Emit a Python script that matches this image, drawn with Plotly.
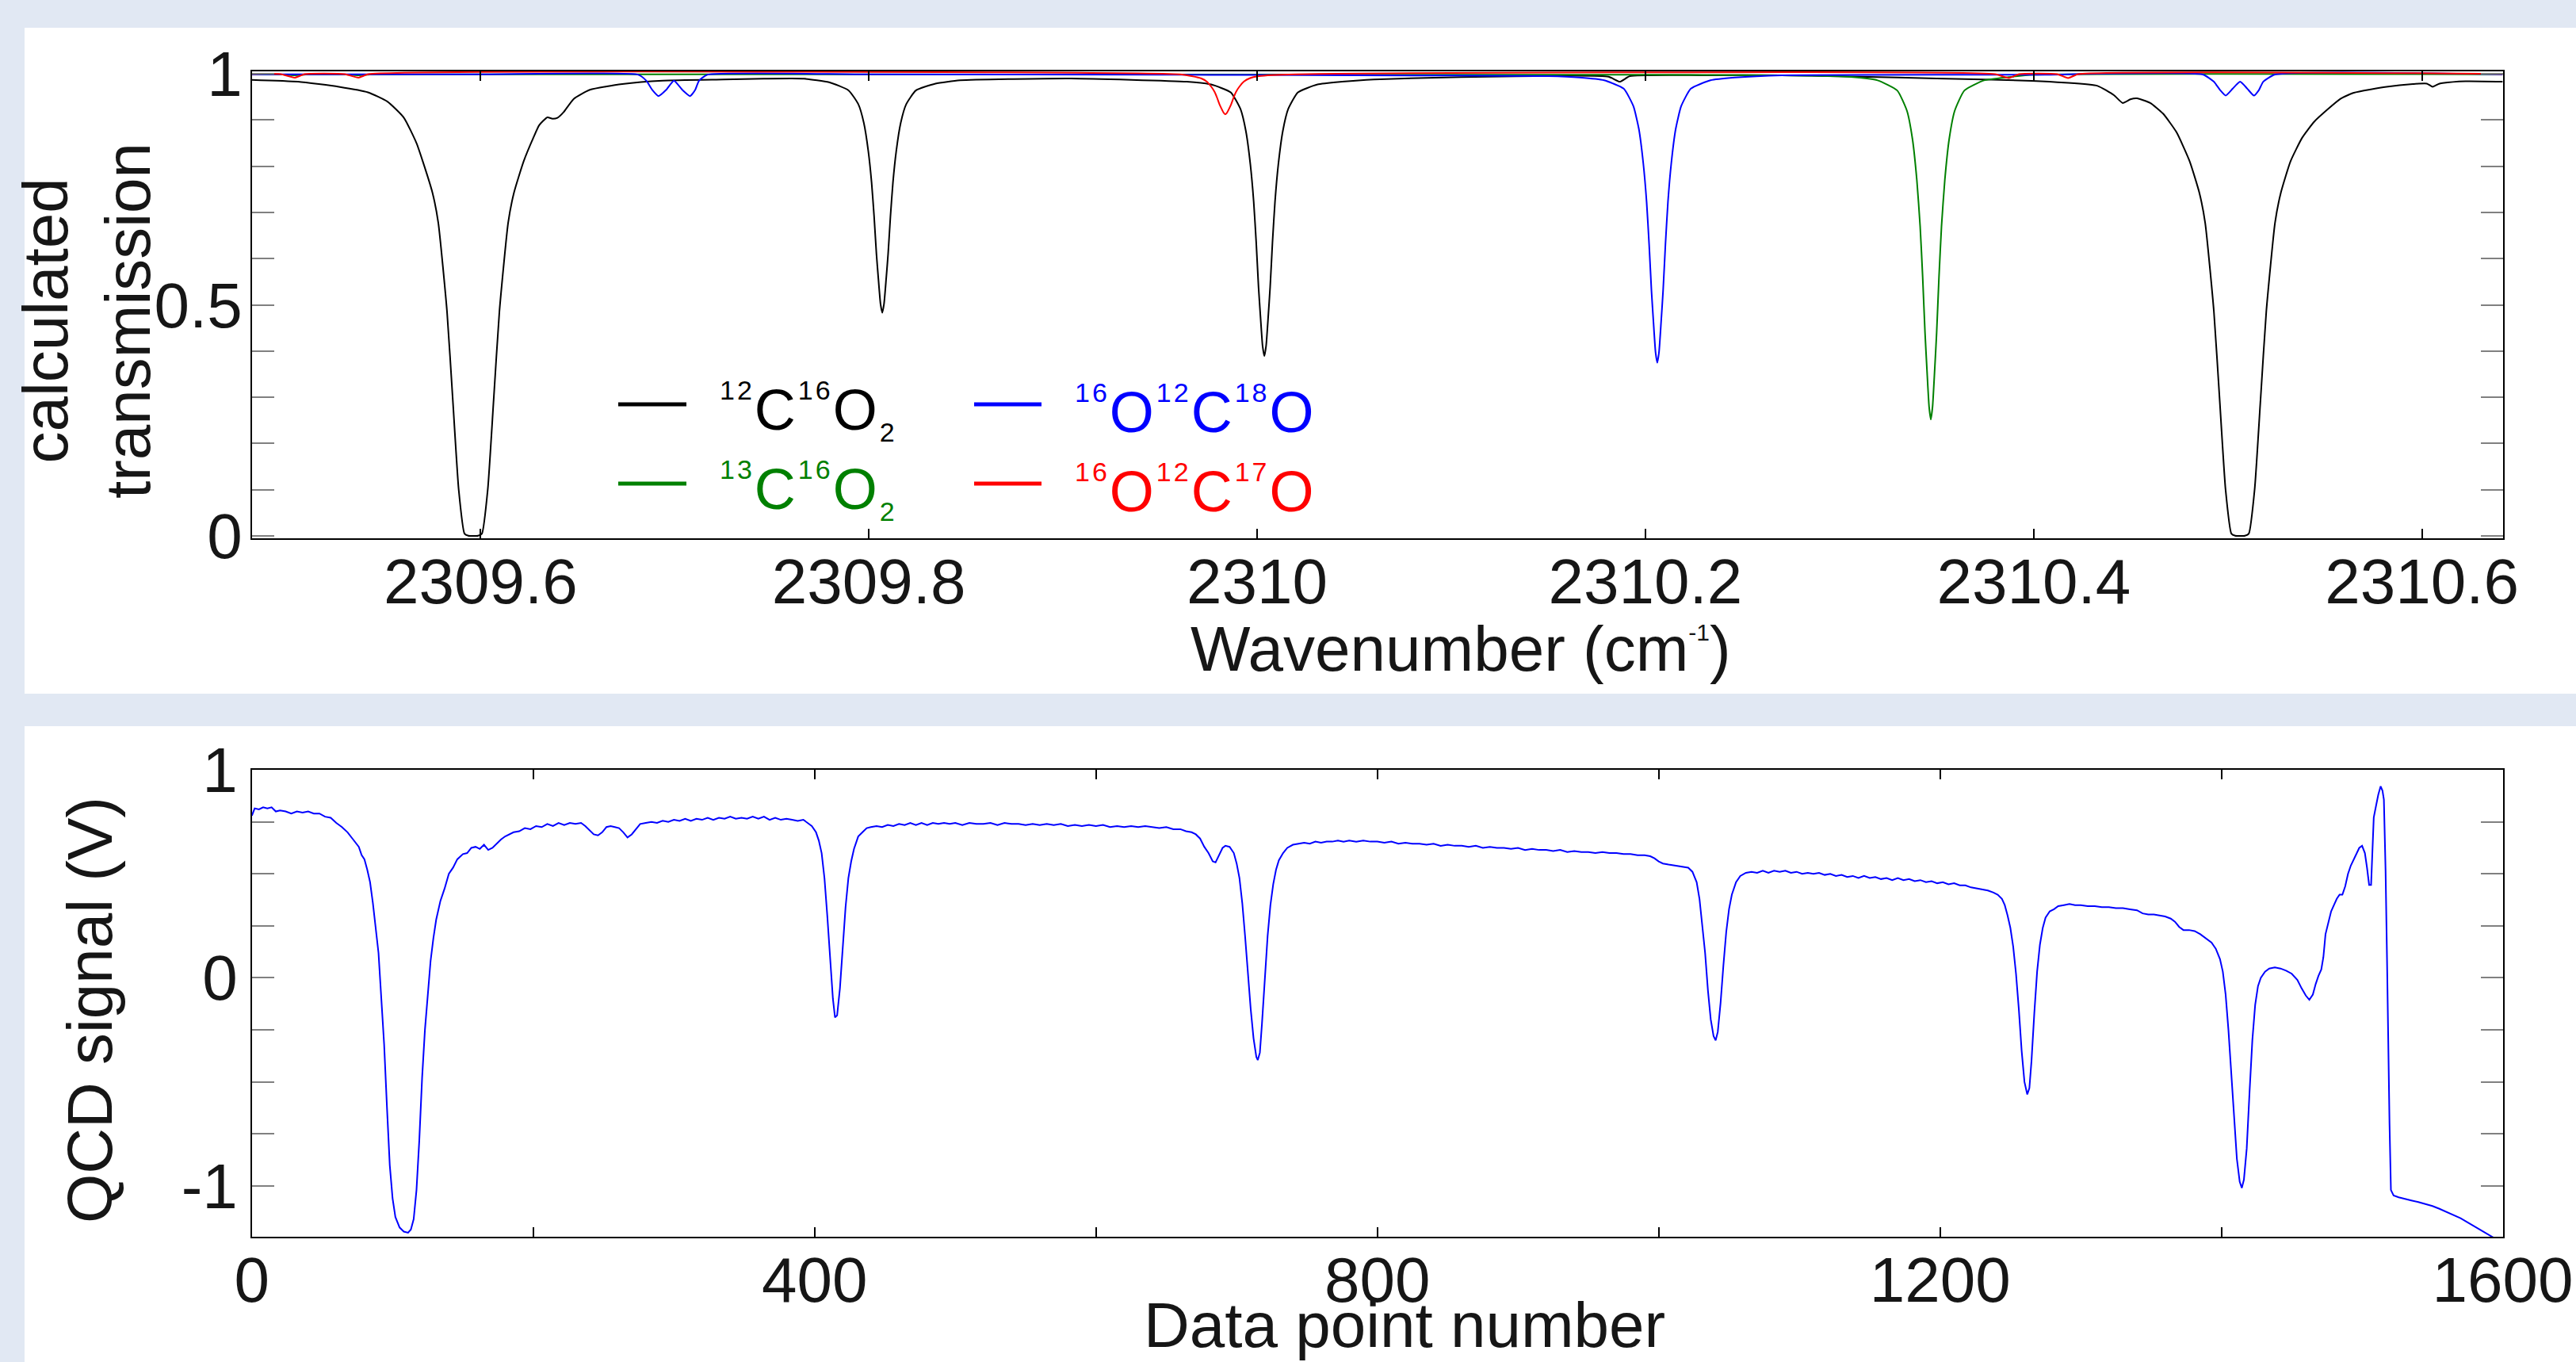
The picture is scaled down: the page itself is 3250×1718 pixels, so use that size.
import plotly.graph_objects as go

# ---------------- data: calculated transmission (top panel) ----------------
wn_12C16O2 = [2309.482, 2309.506, 2309.527, 2309.542, 2309.552, 2309.5605, 2309.567, 2309.5702,
              2309.5752, 2309.5782, 2309.5827, 2309.5857, 2309.5887, 2309.5917, 2309.5937, 2309.5962,
              2309.5987, 2309.6007, 2309.6037, 2309.6067, 2309.6097, 2309.6142, 2309.6172, 2309.6222,
              2309.6272, 2309.6302, 2309.6344, 2309.637, 2309.6396, 2309.6427, 2309.648, 2309.6563,
              2309.673, 2309.6938, 2309.725, 2309.7459, 2309.7667, 2309.7795, 2309.7896, 2309.7946,
              2309.7974, 2309.7997, 2309.8014, 2309.8027, 2309.8039, 2309.8049, 2309.806, 2309.8069,
              2309.8078, 2309.8089, 2309.8099, 2309.8111, 2309.8124, 2309.8141, 2309.8164, 2309.8192,
              2309.8242, 2309.8343, 2309.847, 2309.904, 2309.9637, 2309.9763, 2309.9864, 2309.9914,
              2309.9942, 2309.9965, 2309.9982, 2309.9995, 2310.0007, 2310.0017, 2310.0028, 2310.0037,
              2310.0046, 2310.0057, 2310.0067, 2310.0079, 2310.0092, 2310.0109, 2310.0132, 2310.016,
              2310.021, 2310.0311, 2310.0437, 2310.06, 2310.105, 2310.162, 2310.181, 2310.1868,
              2310.192, 2310.23, 2310.27, 2310.31, 2310.35, 2310.399, 2310.416, 2310.4329,
              2310.4413, 2310.4458, 2310.4498, 2310.4532, 2310.46, 2310.4666, 2310.4735, 2310.4803,
              2310.4853, 2310.4883, 2310.4928, 2310.4958, 2310.4988, 2310.5018, 2310.5038, 2310.5063,
              2310.5088, 2310.5108, 2310.5138, 2310.5168, 2310.5198, 2310.5243, 2310.5273, 2310.5323,
              2310.5383, 2310.5446, 2310.558, 2310.5649, 2310.5817, 2310.5953, 2310.6025, 2310.6055,
              2310.6085, 2310.6106, 2310.6224, 2310.6416]
tr_12C16O2 = [0.987, 0.983, 0.972, 0.960, 0.940, 0.905, 0.850, 0.811,
              0.743, 0.678, 0.486, 0.293, 0.101, 0.005, 0.0005, 0.0,
              0.0005, 0.005, 0.101, 0.293, 0.486, 0.678, 0.743, 0.811,
              0.862, 0.889, 0.906, 0.903, 0.905, 0.917, 0.946, 0.9655,
              0.978, 0.9855, 0.988, 0.9895, 0.9895, 0.982, 0.964, 0.934,
              0.894, 0.833, 0.765, 0.691, 0.610, 0.556, 0.502, 0.483,
              0.502, 0.556, 0.610, 0.691, 0.765, 0.833, 0.894, 0.934,
              0.964, 0.979, 0.986, 0.990, 0.983, 0.977, 0.960, 0.924,
              0.876, 0.804, 0.724, 0.636, 0.539, 0.475, 0.411, 0.389,
              0.411, 0.475, 0.539, 0.636, 0.724, 0.804, 0.876, 0.924,
              0.960, 0.977, 0.983, 0.988, 0.993, 0.996, 0.994, 0.983,
              0.995, 0.997, 0.997, 0.994, 0.990, 0.985, 0.981, 0.974,
              0.954, 0.937, 0.945, 0.947, 0.937, 0.914, 0.874, 0.811,
              0.743, 0.678, 0.486, 0.293, 0.101, 0.005, 0.0005, 0.0,
              0.0005, 0.005, 0.101, 0.293, 0.486, 0.678, 0.743, 0.811,
              0.862, 0.897, 0.946, 0.959, 0.972, 0.978, 0.979, 0.972,
              0.978, 0.980, 0.984, 0.983]

wn_13C16O2 = [2309.482, 2309.498, 2309.504, 2309.510, 2309.531, 2309.537, 2309.543, 2309.60,
              2310.20, 2310.27, 2310.307, 2310.3196, 2310.3297, 2310.3347, 2310.3375, 2310.3398,
              2310.3415, 2310.3428, 2310.344, 2310.345, 2310.3461, 2310.347, 2310.3479, 2310.349,
              2310.350, 2310.3512, 2310.3525, 2310.3542, 2310.3565, 2310.3593, 2310.3643, 2310.3744,
              2310.387, 2310.40, 2310.6416]
tr_13C16O2 = [0.999, 0.9985, 0.997, 0.9985, 0.9985, 0.997, 0.9985, 0.999,
              0.998, 0.997, 0.993, 0.986, 0.964, 0.92, 0.86, 0.77,
              0.67, 0.56, 0.44, 0.36, 0.28, 0.252, 0.28, 0.36,
              0.44, 0.56, 0.67, 0.77, 0.86, 0.92, 0.964, 0.986,
              0.993, 0.998, 0.999]

wn_16O12C18O = [2309.482, 2309.60, 2309.6813, 2309.6854, 2309.6885, 2309.6917, 2309.6955, 2309.6996,
                2309.704, 2309.7079, 2309.7105, 2309.7125, 2309.7167, 2309.80, 2309.96, 2310.05,
                2310.15, 2310.1661, 2310.1787, 2310.1888, 2310.1938, 2310.1966, 2310.1989, 2310.2006,
                2310.2019, 2310.2031, 2310.2041, 2310.2052, 2310.2061, 2310.207, 2310.2081, 2310.2091,
                2310.2103, 2310.2116, 2310.2133, 2310.2156, 2310.2184, 2310.2234, 2310.2335, 2310.2461,
                2310.2704, 2310.35, 2310.40, 2310.4871, 2310.4928, 2310.496, 2310.4989, 2310.5025,
                2310.5063, 2310.510, 2310.5134, 2310.516, 2310.5182, 2310.5243, 2310.6416]
tr_16O12C18O = [0.999, 0.999, 0.998, 0.985, 0.965, 0.952, 0.965, 0.9855,
                0.965, 0.952, 0.965, 0.985, 0.998, 0.999, 0.998, 0.997,
                0.995, 0.992, 0.986, 0.968, 0.930, 0.881, 0.806, 0.723,
                0.631, 0.531, 0.465, 0.398, 0.375, 0.398, 0.465, 0.531,
                0.631, 0.723, 0.806, 0.881, 0.930, 0.968, 0.986, 0.992,
                0.997, 0.998, 0.998, 0.9986, 0.983, 0.965, 0.953, 0.968,
                0.983, 0.968, 0.953, 0.965, 0.983, 0.9986, 0.999]

wn_16O12C17O = [2309.482, 2309.497, 2309.5042, 2309.5094, 2309.530, 2309.5371, 2309.5423, 2309.96,
                2309.9663, 2309.9713, 2309.9741, 2309.9764, 2309.9781, 2309.9794, 2309.9806, 2309.9816,
                2309.9827, 2309.9836, 2309.9845, 2309.9856, 2309.9866, 2309.9878, 2309.9891, 2309.9908,
                2309.9931, 2309.9959, 2310.0009, 2310.02, 2310.38, 2310.3872, 2310.3925, 2310.412,
                2310.4177, 2310.423, 2310.6416]
tr_16O12C17O = [1.0, 0.9995, 0.9918, 0.9995, 0.9995, 0.9918, 0.9995, 0.999,
                0.995, 0.990, 0.983, 0.972, 0.961, 0.948, 0.934, 0.925,
                0.916, 0.9125, 0.916, 0.925, 0.934, 0.948, 0.961, 0.972,
                0.983, 0.990, 0.995, 0.999, 0.9995, 0.991, 0.9995, 0.9995,
                0.991, 0.9995, 1.0]

# ---------------- data: measured QCD signal (bottom panel) ----------------
point_number = [0, 2, 5, 8, 11, 14, 17, 20, 24, 28, 32, 36, 40, 44, 48, 52, 56, 60, 64, 68, 72, 76, 78, 80,
                82, 84, 86, 88, 90, 92, 94, 96, 98, 100, 102, 105, 108, 111, 113, 115, 117, 119, 121, 123,
                125, 127, 129, 131, 134, 137, 140, 143, 146, 150, 153, 156, 159, 162, 165, 168, 171, 174,
                177, 180, 183, 186, 190, 194, 198, 202, 206, 210, 214, 218, 222, 226, 230, 234, 237, 240,
                243, 246, 249, 252, 255, 258, 261, 264, 267, 270, 273, 276, 280, 284, 288, 292, 296, 300,
                304, 308, 312, 316, 320, 324, 328, 332, 336, 340, 344, 348, 352, 356, 360, 364, 368, 372,
                376, 380, 384, 388, 392, 395, 398, 401, 403, 405, 407, 409, 411, 413, 414.5, 416, 418, 420,
                422, 424, 426, 428, 431, 434, 437, 440, 444, 448, 452, 456, 460, 464, 468, 472, 476, 480,
                484, 488, 492, 496, 500, 505, 510, 515, 520, 525, 530, 535, 540, 545, 550, 555, 560, 565,
                570, 575, 580, 585, 590, 595, 600, 605, 610, 615, 620, 625, 630, 635, 640, 645, 650, 655,
                660, 664, 668, 671, 674, 677, 680, 683, 685, 687, 690, 692, 695, 698, 700, 702, 704, 706,
                708, 710, 712, 714, 715, 716.5, 718, 720, 722, 724, 726, 728, 730, 733, 736, 740, 744, 748,
                752, 756, 760, 764, 768, 772, 776, 780, 785, 790, 795, 800, 805, 810, 815, 820, 825, 830,
                835, 840, 845, 850, 855, 860, 865, 870, 875, 880, 885, 890, 895, 900, 905, 910, 915, 920,
                925, 930, 935, 940, 945, 950, 955, 960, 965, 970, 975, 980, 985, 990, 994, 997, 1000, 1003,
                1007, 1012, 1017, 1021, 1024, 1027, 1029, 1031, 1033, 1035, 1037, 1039, 1040.5, 1042, 1044,
                1046, 1048, 1050, 1052, 1055, 1058, 1062, 1066, 1070, 1074, 1078, 1082, 1086, 1090, 1094,
                1098, 1102, 1106, 1110, 1114, 1118, 1122, 1126, 1130, 1134, 1138, 1142, 1146, 1150, 1154,
                1158, 1162, 1166, 1170, 1174, 1178, 1182, 1186, 1190, 1194, 1198, 1202, 1206, 1210, 1214,
                1218, 1222, 1226, 1230, 1234, 1238, 1241, 1244, 1246, 1248, 1250, 1252, 1254, 1256, 1258,
                1260, 1262, 1263.5, 1265, 1267, 1269, 1271, 1273, 1275, 1278, 1281, 1284, 1288, 1292, 1296,
                1300, 1305, 1310, 1315, 1320, 1325, 1330, 1335, 1340, 1344, 1348, 1352, 1356, 1360, 1364,
                1367, 1370, 1373, 1377, 1381, 1385, 1389, 1393, 1396, 1399, 1401, 1403, 1405, 1407, 1409,
                1411, 1413, 1414.5, 1416, 1418, 1420, 1422, 1424, 1426, 1428, 1431, 1434, 1438, 1442, 1446,
                1450, 1454, 1457, 1460, 1462.5, 1465, 1467, 1469, 1471, 1472.5, 1474, 1476, 1478, 1480,
                1482, 1484, 1486, 1488, 1490, 1492, 1494, 1496, 1498, 1500, 1502, 1503.5, 1505, 1506.4,
                1508.3, 1510, 1511.5, 1513.2, 1514.5, 1515.5, 1516.7, 1517.7, 1518.6, 1519.5, 1520.5,
                1522.4, 1526, 1530, 1535, 1540, 1545, 1550, 1555, 1560, 1565, 1570, 1575, 1580, 1585, 1590,
                1595, 1600]
qcd_signal = [0.78, 0.815, 0.81, 0.82, 0.815, 0.82, 0.80, 0.805, 0.80, 0.79, 0.80, 0.795, 0.80, 0.79, 0.79, 0.775,
              0.77, 0.745, 0.725, 0.70, 0.665, 0.63, 0.59, 0.57,
              0.52, 0.46, 0.36, 0.24, 0.12, -0.10, -0.32, -0.62, -0.90, -1.06, -1.15, -1.20, -1.22, -1.225, -1.21,
              -1.16, -1.02, -0.78, -0.48, -0.25,
              -0.08, 0.08, 0.19, 0.28, 0.37, 0.43, 0.50, 0.53, 0.57, 0.595, 0.60, 0.625, 0.63, 0.62, 0.64, 0.615,
              0.625, 0.645,
              0.665, 0.68, 0.69, 0.70, 0.705, 0.72, 0.715, 0.73, 0.725, 0.74, 0.73, 0.745, 0.735, 0.745, 0.74,
              0.745, 0.73, 0.71,
              0.69, 0.685, 0.70, 0.725, 0.73, 0.725, 0.72, 0.70, 0.675, 0.69, 0.715, 0.74, 0.745, 0.75, 0.745,
              0.755, 0.75, 0.76,
              0.755, 0.765, 0.755, 0.765, 0.76, 0.77, 0.76, 0.77, 0.765, 0.775, 0.765, 0.77, 0.765, 0.775, 0.765,
              0.775, 0.76, 0.77,
              0.76, 0.765, 0.76, 0.755, 0.76, 0.745, 0.73, 0.70, 0.66, 0.60, 0.48, 0.30, 0.10, -0.10, -0.19, -0.18,
              -0.05, 0.15,
              0.34, 0.48, 0.56, 0.62, 0.68, 0.70, 0.72, 0.725, 0.73, 0.725, 0.735, 0.73, 0.74, 0.735, 0.745, 0.735,
              0.745, 0.735,
              0.745, 0.74, 0.745, 0.74, 0.745, 0.735, 0.745, 0.74, 0.74, 0.745, 0.735, 0.745, 0.74, 0.74, 0.735,
              0.74, 0.735, 0.74,
              0.735, 0.74, 0.73, 0.735, 0.73, 0.735, 0.73, 0.735, 0.725, 0.73, 0.725, 0.73, 0.725, 0.73, 0.725,
              0.72, 0.725, 0.715,
              0.715, 0.705, 0.70, 0.69, 0.67, 0.63, 0.60, 0.56, 0.555, 0.585, 0.625, 0.635, 0.63, 0.60, 0.55, 0.48,
              0.36, 0.20,
              0.02, -0.15, -0.29, -0.38, -0.395, -0.36, -0.22, -0.02, 0.20, 0.35, 0.45, 0.52, 0.565, 0.60, 0.625,
              0.64, 0.645, 0.65,
              0.645, 0.655, 0.65, 0.655, 0.655, 0.66, 0.655, 0.66, 0.655, 0.66, 0.655, 0.655, 0.65, 0.655, 0.645,
              0.65, 0.645, 0.645,
              0.64, 0.645, 0.635, 0.64, 0.635, 0.635, 0.63, 0.635, 0.625, 0.63, 0.625, 0.625, 0.62, 0.625, 0.615,
              0.62, 0.615, 0.615,
              0.61, 0.615, 0.605, 0.61, 0.605, 0.605, 0.60, 0.605, 0.60, 0.60, 0.595, 0.595, 0.59, 0.59, 0.585,
              0.575, 0.56, 0.55,
              0.545, 0.54, 0.535, 0.53, 0.51, 0.46, 0.38, 0.26, 0.12, -0.06, -0.20, -0.28, -0.30, -0.26, -0.12,
              0.06, 0.22, 0.33, 0.40, 0.46, 0.49, 0.505, 0.51, 0.505, 0.515, 0.505, 0.515, 0.51, 0.515, 0.505,
              0.51, 0.50, 0.505, 0.50, 0.505, 0.495, 0.50, 0.49, 0.495, 0.485, 0.49, 0.48, 0.49, 0.48, 0.485,
              0.475, 0.48, 0.47, 0.48, 0.47, 0.475, 0.465, 0.47, 0.46, 0.465, 0.455, 0.46, 0.45, 0.455, 0.445,
              0.445, 0.435, 0.43, 0.425, 0.42, 0.41, 0.40, 0.38, 0.35, 0.30, 0.24, 0.15, 0.02, -0.15, -0.35,
              -0.50, -0.56, -0.53, -0.40, -0.17, 0.03, 0.16, 0.24, 0.29, 0.32, 0.33, 0.345, 0.35, 0.355, 0.35,
              0.35, 0.345, 0.345, 0.34, 0.34, 0.335, 0.335, 0.33, 0.325, 0.31, 0.305, 0.305, 0.30, 0.295, 0.285,
              0.27, 0.245, 0.23, 0.23, 0.225, 0.21, 0.19, 0.17, 0.14, 0.09, 0.03, -0.08, -0.25, -0.45, -0.68,
              -0.87, -0.98, -1.01, -0.97, -0.82, -0.55, -0.30, -0.13, -0.04, 0.00, 0.03, 0.045, 0.05, 0.045, 0.035,
              0.02, -0.01, -0.05, -0.085, -0.105, -0.08, -0.03, 0.01, 0.04, 0.10, 0.21, 0.27, 0.32, 0.35,
              0.38, 0.40, 0.40, 0.44, 0.50, 0.54, 0.57, 0.60, 0.625, 0.635, 0.60, 0.53, 0.447, 0.447,
              0.771, 0.83, 0.88, 0.921, 0.90, 0.857, 0.515, 0.10, -0.338, -0.70, -1.02,
              -1.046, -1.055, -1.063, -1.07, -1.078, -1.088, -1.097, -1.11, -1.125, -1.14, -1.155, -1.175, -1.195,
              -1.215, -1.235, -1.255, -1.27]

# tick labels (labelled ticks) and unlabelled minor tick positions
x1_tickvals = [2309.6, 2309.8, 2310.0, 2310.2, 2310.4, 2310.6]
x1_ticktext = ["2309.6", "2309.8", "2310", "2310.2", "2310.4", "2310.6"]
y1_tickvals = [0, 0.5, 1.0]
y1_ticktext = ["0", "0.5", "1"]
y1_minorvals = [0.1, 0.2, 0.3, 0.4, 0.6, 0.7, 0.8, 0.9]
x2_tickvals = [0, 400, 800, 1200, 1600]
x2_ticktext = ["0", "400", "800", "1200", "1600"]
x2_minorvals = [200, 600, 1000, 1400]
y2_tickvals = [-1.0, 0, 1.0]
y2_ticktext = ["-1", "0", "1"]
y2_minorvals = [-0.75, -0.5, -0.25, 0.25, 0.5, 0.75]

W, H = 3250, 1718
FONT = "Liberation Sans, Arial, Helvetica, sans-serif"
TXT = "#161616"
BG = "#e1e8f3"


def up(t, size=34, shift=38):
    # raised small text (superscript)
    return '<span style="font-size:%dpx;baseline-shift:%dpx">%s</span>' % (size, shift, t)


def down(t, size=34, shift=15):
    # lowered small text (subscript)
    return '<span style="font-size:%dpx;baseline-shift:-%dpx">%s</span>' % (size, shift, t)


species = [
    (up("12") + "C" + up("16") + "O" + down("2"), wn_12C16O2, tr_12C16O2, "#000000"),
    (up("13") + "C" + up("16") + "O" + down("2"), wn_13C16O2, tr_13C16O2, "#008000"),
    (up("16") + "O" + up("12") + "C" + up("18") + "O", wn_16O12C18O, tr_16O12C18O, "#0000ff"),
    (up("16") + "O" + up("12") + "C" + up("17") + "O", wn_16O12C17O, tr_16O12C17O, "#ff0000"),
]

fig = go.Figure()
for name, xs, ys, col in species:
    fig.add_trace(go.Scatter(x=xs, y=ys, mode="lines", name=name, showlegend=False,
                             line=dict(color=col, width=2, shape="spline", smoothing=0.5),
                             xaxis="x", yaxis="y"))

fig.add_trace(go.Scatter(x=point_number, y=qcd_signal, mode="lines", name="QCD signal",
                         showlegend=False, line=dict(color="#0000ff", width=2),
                         xaxis="x2", yaxis="y2"))


def px(x):
    return x / W


def py(y):
    return 1 - y / H


# white panels
shapes = [
    dict(type="rect", xref="paper", yref="paper", x0=px(31), x1=1.0, y0=py(875), y1=py(35),
         fillcolor="white", line=dict(width=0), layer="below"),
    dict(type="rect", xref="paper", yref="paper", x0=px(31), x1=1.0, y0=0.0, y1=py(916),
         fillcolor="white", line=dict(width=0), layer="below"),
]

# hand-made legend (long line samples, coloured text)
legend_pos = [(780, 866, 906, 510), (780, 866, 906, 610), (1229, 1314, 1354, 510), (1229, 1314, 1354, 610)]
annotations = []
for (name, xs, ys, col), (lx0, lx1, tx, ly) in zip(species, legend_pos):
    shapes.append(dict(type="line", xref="paper", yref="paper", x0=px(lx0), x1=px(lx1),
                       y0=py(ly), y1=py(ly), line=dict(color=col, width=5)))
    annotations.append(dict(xref="paper", yref="paper", x=px(tx), y=py(ly + 8), xanchor="left",
                            yanchor="middle", showarrow=False,
                            text='<span style="letter-spacing:3px">' + name + '</span>',
                            font=dict(family=FONT, size=72, color=col)))

# axis titles placed where the reference has them
annotations.append(dict(xref="paper", yref="paper", x=px(109), y=py(405), xanchor="center",
                        yanchor="middle", showarrow=False, textangle=-90,
                        text="calculated<br>transmission",
                        font=dict(family=FONT, size=80, color=TXT)))
annotations.append(dict(xref="paper", yref="paper", x=px(1843), y=py(819), xanchor="center",
                        yanchor="middle", showarrow=False,
                        text="Wavenumber (cm" + up("-1", 30, 38) + ")",
                        font=dict(family=FONT, size=80, color=TXT)))
annotations.append(dict(xref="paper", yref="paper", x=px(113), y=py(1274), xanchor="center",
                        yanchor="middle", showarrow=False, textangle=-90, text="QCD signal (V)",
                        font=dict(family=FONT, size=80, color=TXT)))
annotations.append(dict(xref="paper", yref="paper", x=px(1772), y=py(1671), xanchor="center",
                        yanchor="middle", showarrow=False, text="Data point number",
                        font=dict(family=FONT, size=80, color=TXT)))

axis_common = dict(showgrid=False, zeroline=False, showline=True, linecolor="#000000", linewidth=2,
                   mirror="allticks", ticks="inside", automargin=False,
                   tickfont=dict(family=FONT, size=80, color=TXT))

fig.update_layout(
    width=W, height=H,
    margin=dict(l=0, r=0, t=0, b=0, pad=0, autoexpand=False),
    paper_bgcolor=BG, plot_bgcolor="white",
    font=dict(family=FONT, color=TXT),
    xaxis=dict(domain=[px(317.8), px(3157.6)], anchor="y", range=[2309.4822, 2310.6416],
               tickmode="array", tickvals=x1_tickvals, ticktext=x1_ticktext,
               ticklen=12, tickwidth=2, tickcolor="#000000", ticklabelstandoff=-16,
               **axis_common),
    yaxis=dict(domain=[py(679.3), py(89.8)], anchor="x", range=[-0.0057, 1.0058],
               tickmode="array", tickvals=y1_tickvals, ticktext=y1_ticktext,
               ticklen=28, tickwidth=2, tickcolor="#808080", ticklabelstandoff=-6,
               minor=dict(tickmode="array", tickvals=y1_minorvals, ticks="inside", ticklen=28,
                          tickwidth=2, tickcolor="#808080", showgrid=False),
               **axis_common),
    xaxis2=dict(domain=[px(317.8), px(3157.6)], anchor="y2", range=[0, 1600],
                tickmode="array", tickvals=x2_tickvals, ticktext=x2_ticktext,
                ticklen=12, tickwidth=2, tickcolor="#000000", ticklabelstandoff=-16,
                minor=dict(tickmode="array", tickvals=x2_minorvals, ticks="inside", ticklen=12,
                           tickwidth=2, tickcolor="#000000", showgrid=False),
                **axis_common),
    yaxis2=dict(domain=[py(1560.4), py(971.1)], anchor="x2", range=[-1.246, 1.0],
                tickmode="array", tickvals=y2_tickvals, ticktext=y2_ticktext,
                ticklen=28, tickwidth=2, tickcolor="#808080",
                minor=dict(tickmode="array", tickvals=y2_minorvals, ticks="inside", ticklen=28,
                           tickwidth=2, tickcolor="#808080", showgrid=False),
                **axis_common),
    shapes=shapes,
    annotations=annotations,
)

fig.write_html("out.html", config={"displayModeBar": False},
               post_script="document.body.style.margin='0px';")
